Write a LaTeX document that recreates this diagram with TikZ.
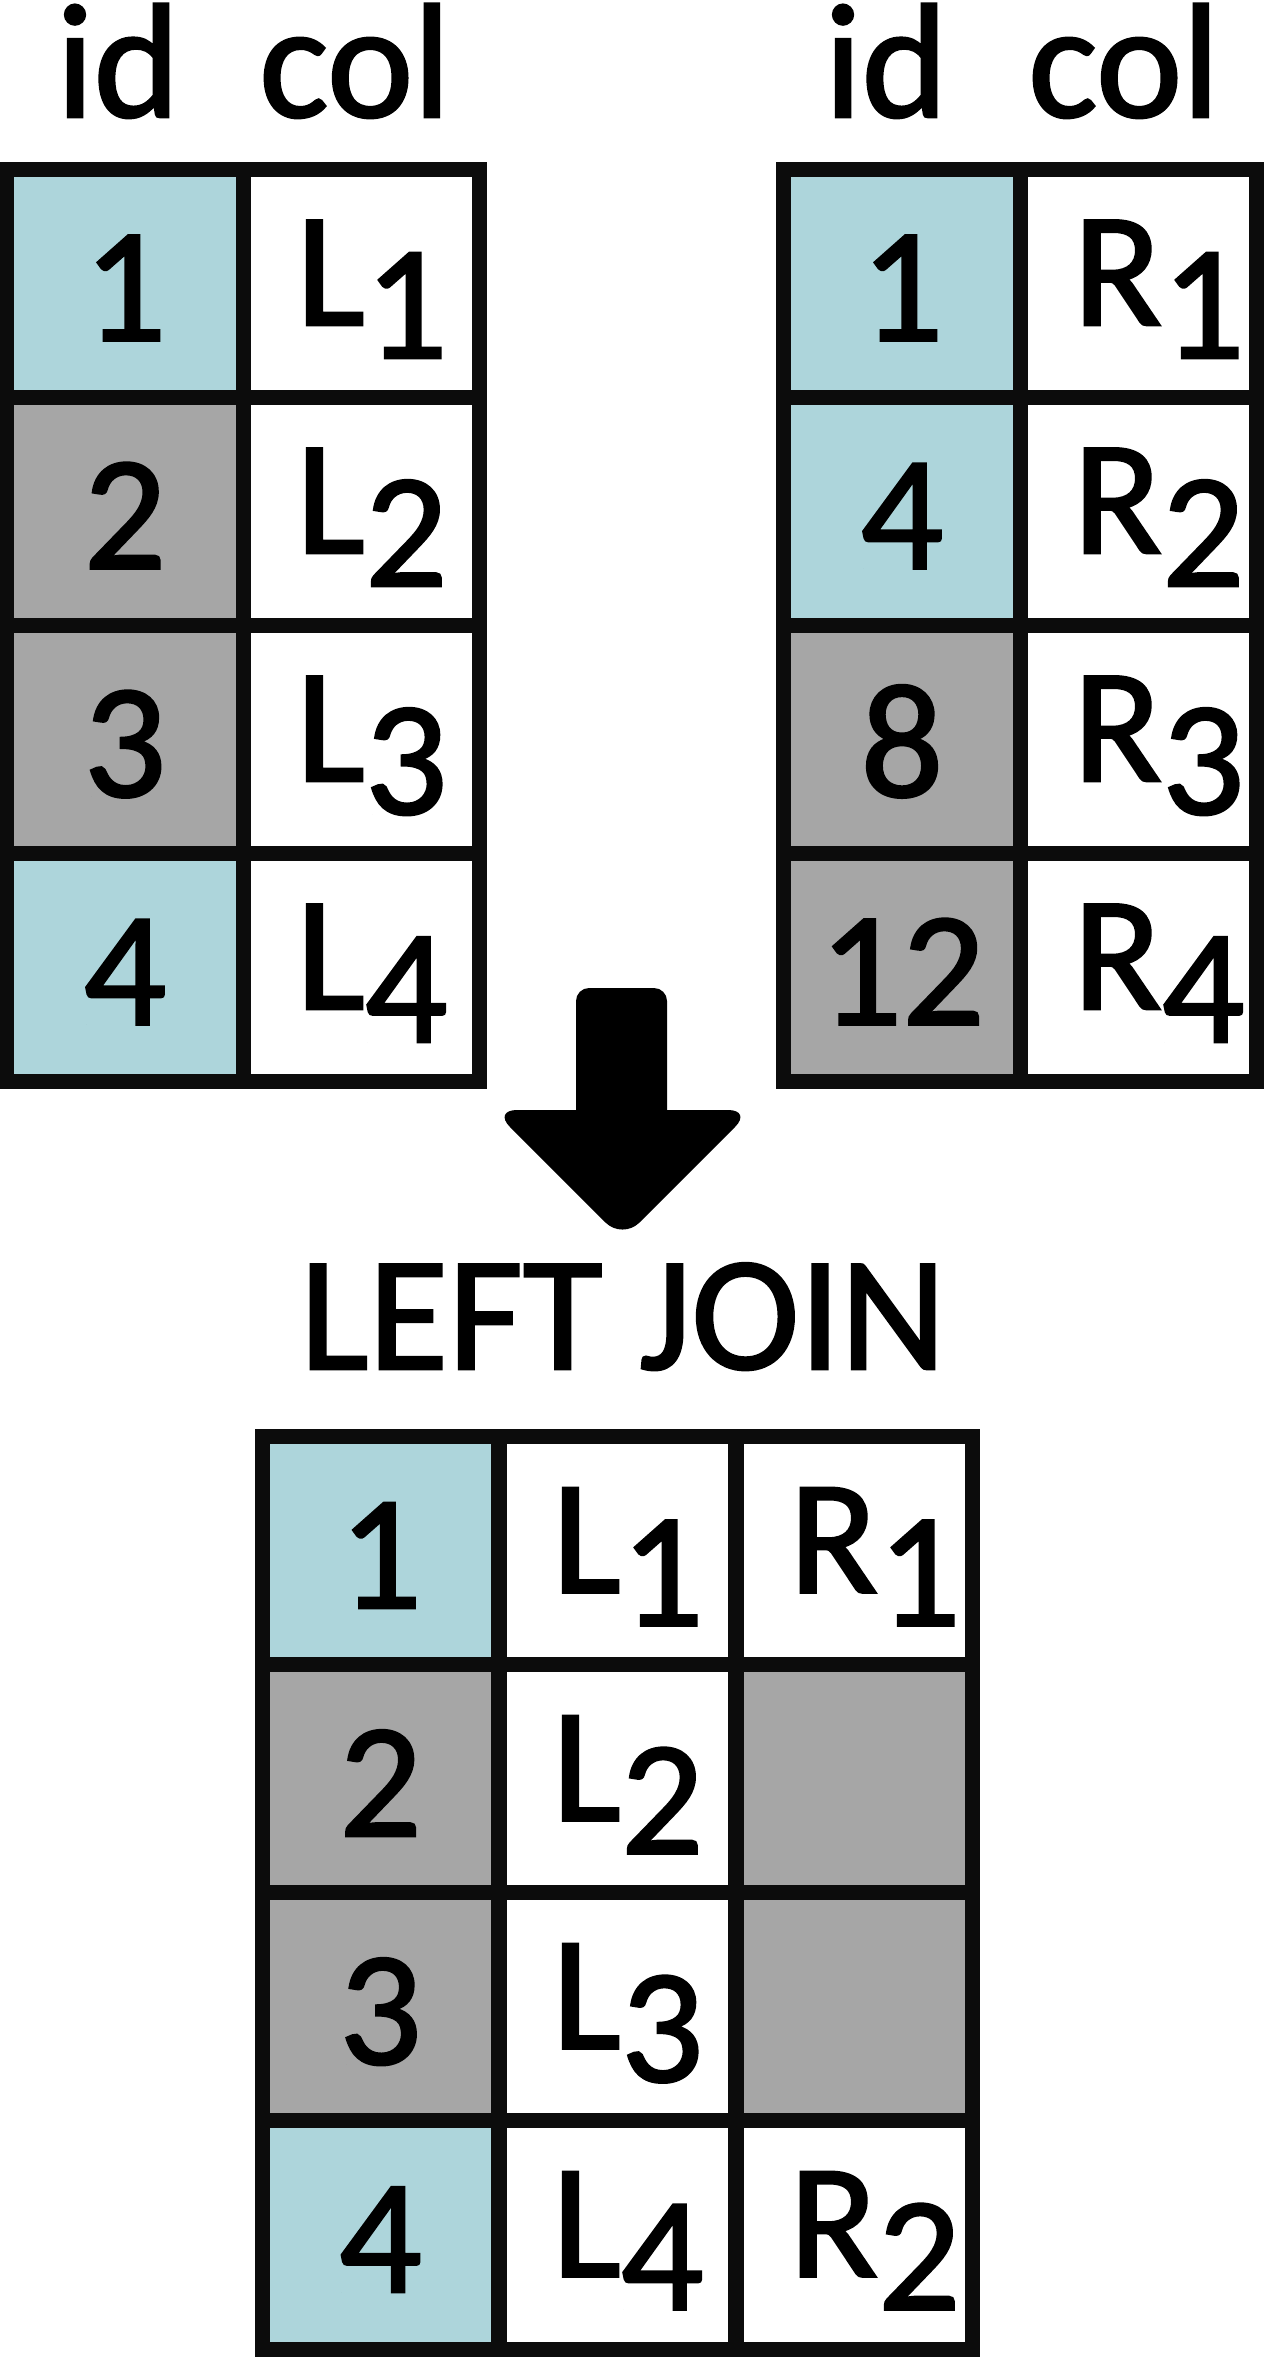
\documentclass[tikz,border=0pt]{standalone}
\usepackage{fontspec}
\setmainfont{Carlito}[FakeBold=1.6]
\usepackage{tikz}
\definecolor{edgeblack}{RGB}{12,12,12}
\definecolor{matchblue}{RGB}{173,213,219}
\definecolor{nomatchgray}{RGB}{166,166,166}
\newcommand{\lowidx}[1]{\raisebox{-0.33cm}{#1}}

\begin{document}
\begin{tikzpicture}[x=0.01cm, y=-0.01cm,
    bigtext/.style={font=\fontsize{46.4pt}{54pt}\selectfont},
    cell/.style={draw=edgeblack, line width=0.15cm, minimum width=2.365cm, minimum height=2.28cm,
        inner sep=0pt, outer sep=0pt, bigtext},
    idcell/.style={cell, text height=1.14cm, text depth=0pt},
    valcell/.style={cell, fill=white, text height=1cm, text depth=0.17cm,
        text width=1.305cm, align=left, inner xsep=0.53cm},
    head/.style={anchor=base, inner sep=0pt, bigtext}]
    \useasboundingbox[fill=white] (0,0) rectangle (1265,2358);

    % Left table
    \node[head] (lidhead) at (118,117) {id};
    \node[head] (lcolhead) at (355,117) {col};
    \node[idcell, fill=matchblue] (lid1) at (125,283.5) {1};
    \node[valcell] (lcol1) at (361.5,283.5) {L\lowidx{1}};
    \node[idcell, fill=nomatchgray] (lid2) at (125,511.5) {2};
    \node[valcell] (lcol2) at (361.5,511.5) {L\lowidx{2}};
    \node[idcell, fill=nomatchgray] (lid3) at (125,739.5) {3};
    \node[valcell] (lcol3) at (361.5,739.5) {L\lowidx{3}};
    \node[idcell, fill=matchblue] (lid4) at (125,967.5) {4};
    \node[valcell] (lcol4) at (361.5,967.5) {L\lowidx{4}};

    % Right table
    \node[head] (ridhead) at (886,117) {id};
    \node[head] (rcolhead) at (1124,117) {col};
    \node[idcell, fill=matchblue] (rid1) at (902,283.5) {1};
    \node[valcell] (rcol1) at (1138.5,283.5) {R\lowidx{1}};
    \node[idcell, fill=matchblue] (rid4) at (902,511.5) {4};
    \node[valcell] (rcol2) at (1138.5,511.5) {R\lowidx{2}};
    \node[idcell, fill=nomatchgray] (rid8) at (902,739.5) {8};
    \node[valcell] (rcol3) at (1138.5,739.5) {R\lowidx{3}};
    \node[idcell, fill=nomatchgray] (rid12) at (902,967.5) {12};
    \node[valcell] (rcol4) at (1138.5,967.5) {R\lowidx{4}};

    % Arrow and join name
    \fill[black, rounded corners=0.13cm] (576,1160) -- (576,988) -- (667,988) -- (667,1160) -- cycle;
    \fill[black, rounded corners=0.24cm] (493,1110) -- (752,1110) -- (622.5,1239.5) -- cycle;
    \node[head] (jointitle) at (623,1369) {LEFT JOIN};

    % Result table
    \node[idcell, fill=matchblue] (jid1) at (380.5,1551) {1};
    \node[valcell] (jl1) at (617.5,1551) {L\lowidx{1}};
    \node[valcell] (jr1) at (854.5,1551) {R\lowidx{1}};
    \node[idcell, fill=nomatchgray] (jid2) at (380.5,1779) {2};
    \node[valcell] (jl2) at (617.5,1779) {L\lowidx{2}};
    \node[cell, fill=nomatchgray] (jr2) at (854.5,1779) {};
    \node[idcell, fill=nomatchgray] (jid3) at (380.5,2007) {3};
    \node[valcell] (jl3) at (617.5,2007) {L\lowidx{3}};
    \node[cell, fill=nomatchgray] (jr3) at (854.5,2007) {};
    \node[idcell, fill=matchblue] (jid4) at (380.5,2235) {4};
    \node[valcell] (jl4) at (617.5,2235) {L\lowidx{4}};
    \node[valcell] (jr4) at (854.5,2235) {R\lowidx{2}};
\end{tikzpicture}
\end{document}
